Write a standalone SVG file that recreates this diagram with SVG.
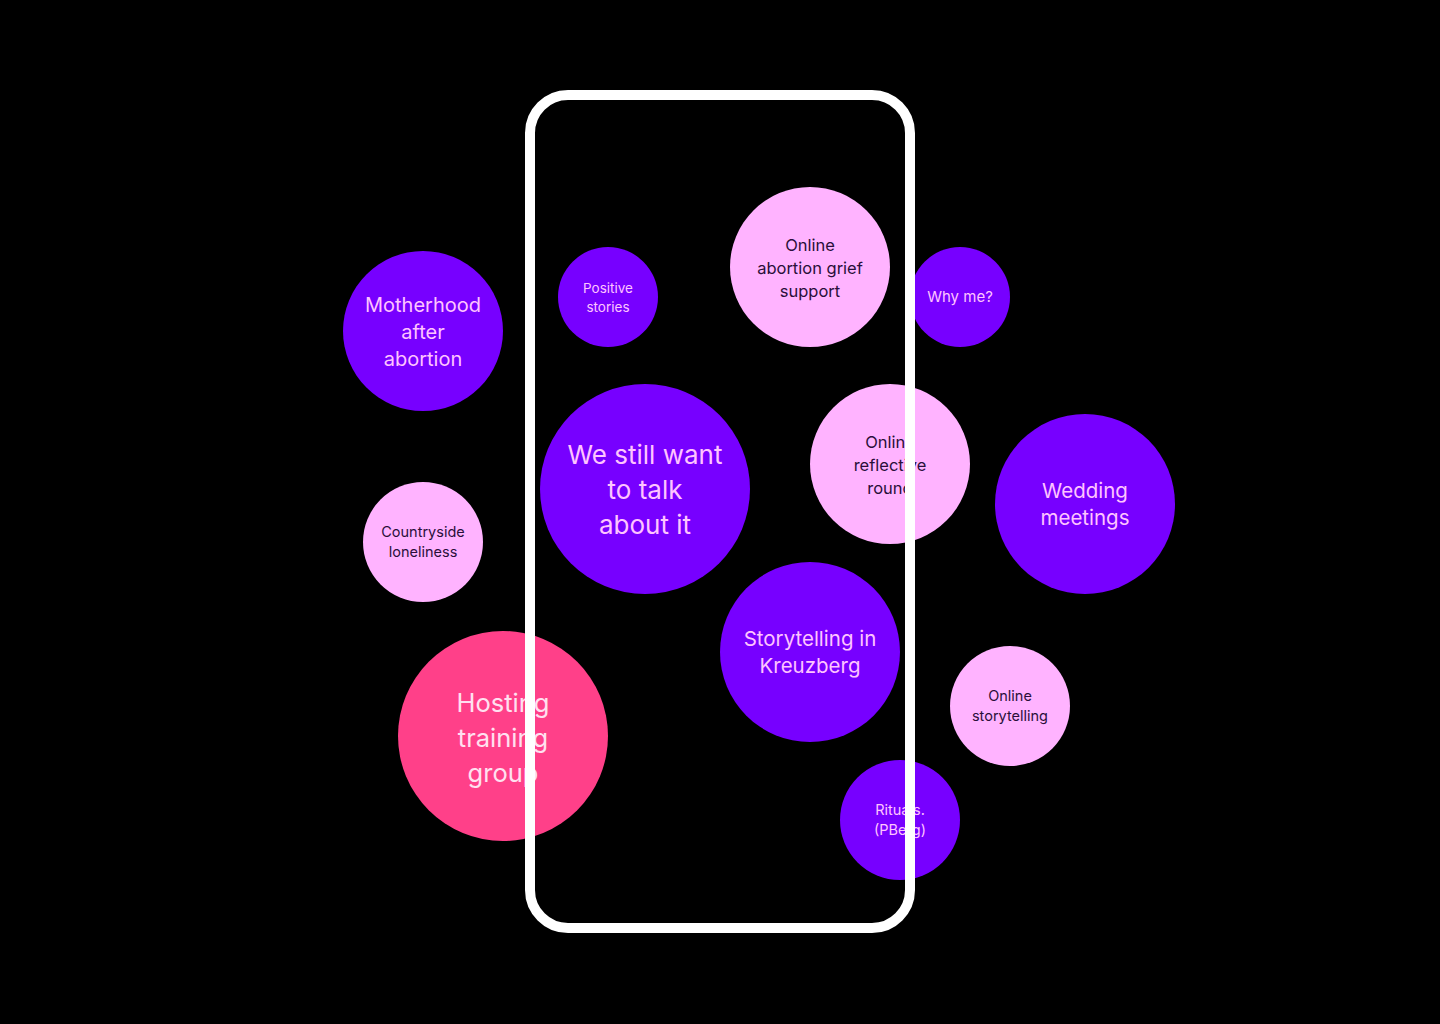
<svg xmlns="http://www.w3.org/2000/svg" width="1440" height="1024" viewBox="0 0 1440 1024">
<style>
text{font-family:"Inter","Lato","Liberation Sans",sans-serif;text-anchor:middle;font-weight:400}
.p{fill:#7700ff}
.l{fill:#ffb3ff}
.h{fill:#ff4089}
.tp{fill:#ffc4ff}
.tl{fill:#2a0f3a}
.th{fill:#ffe0f0}
</style>
<rect x="0" y="0" width="1440" height="1024" fill="#000"/>
<g id="motherhood"><circle class="p" cx="423" cy="331" r="80"/><text class="tp" font-size="20"><tspan x="423" y="312">Motherhood</tspan><tspan x="423" y="339">after</tspan><tspan x="423" y="366">abortion</tspan></text></g>
<g id="positive"><circle class="p" cx="608" cy="297" r="50"/><text class="tp" font-size="13.5"><tspan x="608" y="293">Positive</tspan><tspan x="608" y="312">stories</tspan></text></g>
<g id="grief"><circle class="l" cx="810" cy="267" r="80"/><text class="tl" font-size="16.5"><tspan x="810" y="251">Online</tspan><tspan x="810" y="274">abortion grief</tspan><tspan x="810" y="297">support</tspan></text></g>
<g id="whyme"><circle class="p" cx="960" cy="297" r="50"/><text class="tp" font-size="15"><tspan x="960" y="302">Why me?</tspan></text></g>
<g id="talk"><circle class="p" cx="645" cy="489" r="105"/><text class="tp" font-size="26"><tspan x="645" y="464">We still want</tspan><tspan x="645" y="499">to talk</tspan><tspan x="645" y="534">about it</tspan></text></g>
<g id="reflective"><circle class="l" cx="890" cy="464" r="80"/><text class="tl" font-size="16.5"><tspan x="890" y="448">Online</tspan><tspan x="890" y="471">reflective</tspan><tspan x="890" y="494">round</tspan></text></g>
<g id="wedding"><circle class="p" cx="1085" cy="504" r="90"/><text class="tp" font-size="20.5"><tspan x="1085" y="498">Wedding</tspan><tspan x="1085" y="525">meetings</tspan></text></g>
<g id="countryside"><circle class="l" cx="423" cy="542" r="60"/><text class="tl" font-size="14.5"><tspan x="423" y="537">Countryside</tspan><tspan x="423" y="557">loneliness</tspan></text></g>
<g id="kreuzberg"><circle class="p" cx="810" cy="652" r="90"/><text class="tp" font-size="20.5"><tspan x="810" y="646">Storytelling in</tspan><tspan x="810" y="673">Kreuzberg</tspan></text></g>
<g id="onlinestory"><circle class="l" cx="1010" cy="706" r="60"/><text class="tl" font-size="14.5"><tspan x="1010" y="701">Online</tspan><tspan x="1010" y="721">storytelling</tspan></text></g>
<g id="hosting"><circle class="h" cx="503" cy="736" r="105"/><text class="th" font-size="25.5"><tspan x="503" y="712">Hosting</tspan><tspan x="503" y="747">training</tspan><tspan x="503" y="782">group</tspan></text></g>
<g id="rituals"><circle class="p" cx="900" cy="820" r="60"/><text class="tp" font-size="14.5"><tspan x="900" y="815">Rituals.</tspan><tspan x="900" y="835">(PBerg)</tspan></text></g>
<g id="phone"><rect x="530" y="95" width="380" height="833" rx="38" ry="38" fill="none" stroke="#fff" stroke-width="10"/></g>
</svg>
